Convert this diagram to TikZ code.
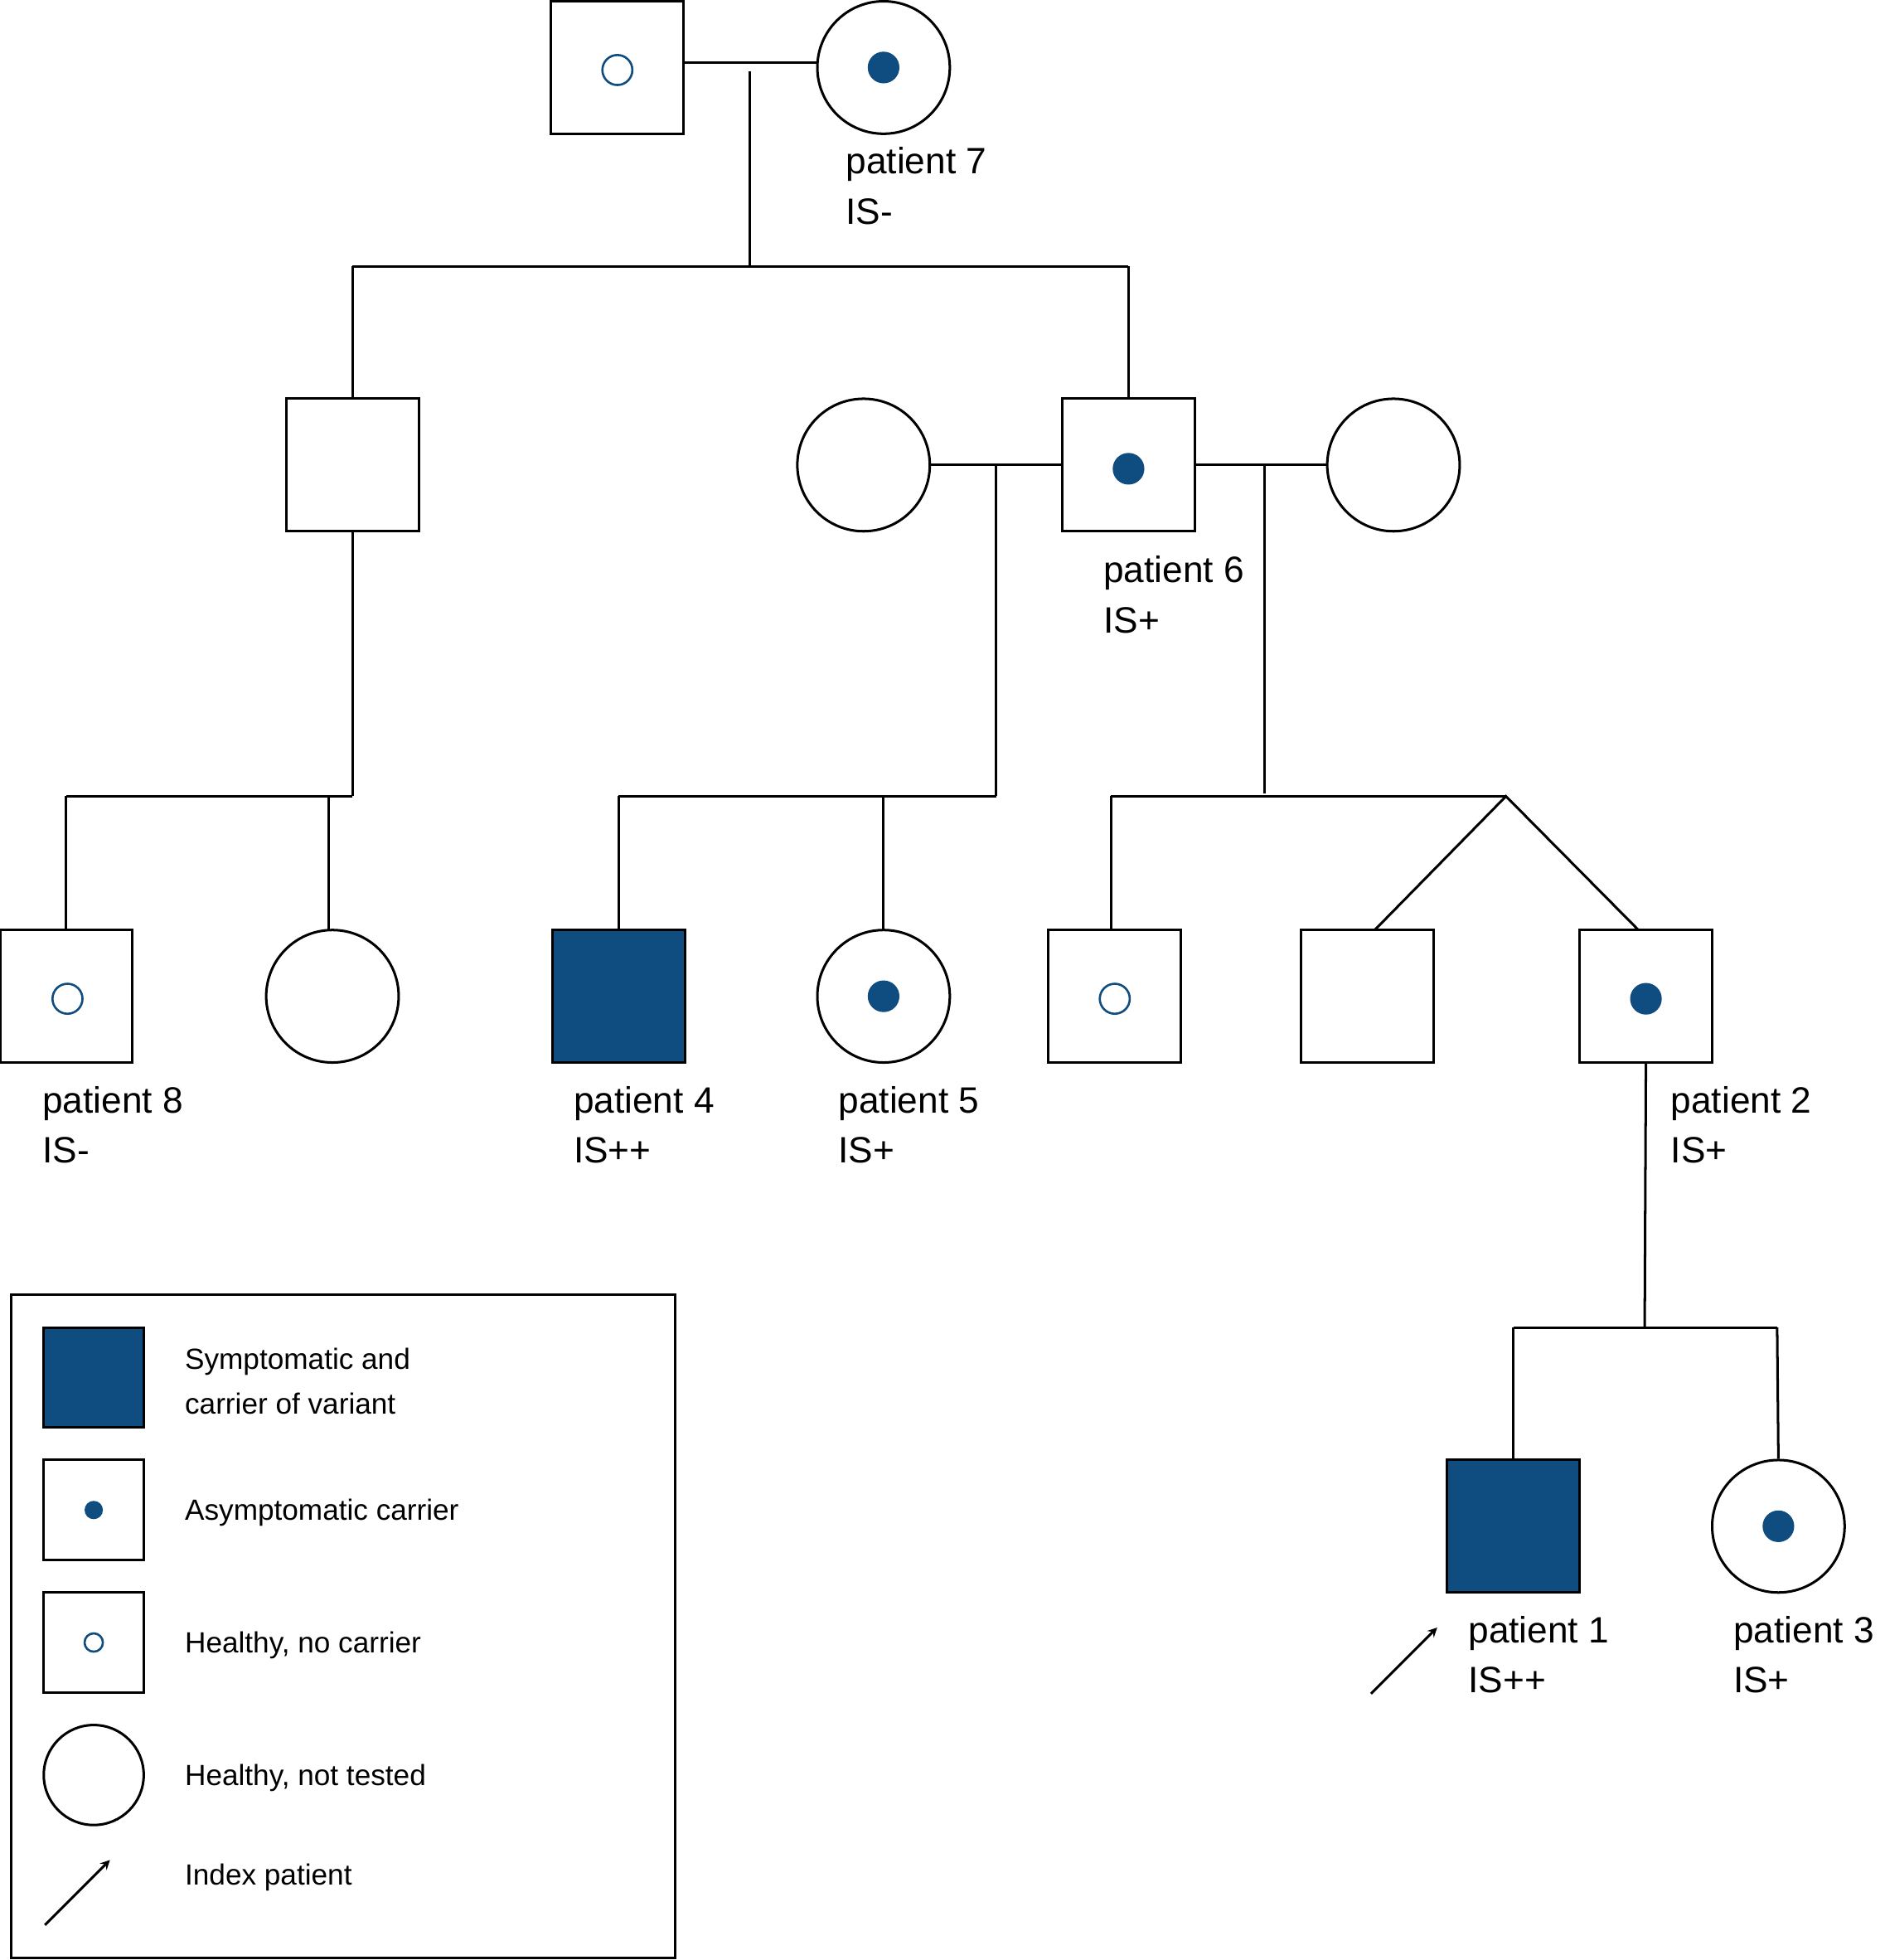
\documentclass[tikz,border=0pt]{standalone}
\usepackage{fontspec}
\setmainfont{Liberation Sans}
\definecolor{carrier}{RGB}{15,76,127}
\tikzset{every picture/.style={line width=1.5pt}}
\tikzset{
  male/.style={draw,rectangle,minimum size=79.5pt,inner sep=0pt},
  female/.style={draw,circle,minimum size=79.5pt,inner sep=0pt},
  lmale/.style={draw,rectangle,minimum size=60pt,inner sep=0pt},
  lfemale/.style={draw,circle,minimum size=60pt,inner sep=0pt},
  sick/.style={fill=carrier},
  dot/.style={circle,fill=carrier,minimum size=19pt,inner sep=0pt},
  odot/.style={circle,draw=carrier,minimum size=18pt,inner sep=0pt,line width=1.3pt},
  ldot/.style={circle,fill=carrier,minimum size=11pt,inner sep=0pt},
  lodot/.style={circle,draw=carrier,minimum size=11pt,inner sep=0pt,line width=1.3pt},
  lbl/.style={anchor=north west,inner sep=0pt,align=left,font=\fontsize{22}{30}\selectfont},
  ltxt/.style={anchor=west,inner sep=0pt,align=left,font=\fontsize{17.5}{27}\selectfont}
}
\begin{document}
\begin{tikzpicture}[x=0.75pt,y=0.75pt,yscale=-1,xscale=1]
	\useasboundingbox (0,0) rectangle (1508,1568);

	% generation I
	\node [male] (g1m) at (494,54) {};
	\node [odot] (g1md) at (494,56) {};
	\node [female] (p7) at (707,54) {};
	\node [dot] (p7d) at (707,54) {};
	\draw (547,50) -- (654,50);
	\draw (600,57) -- (600,213);
	\draw (282,213) -- (903,213);

	% generation II
	\node [male] (g2a) at (282,372) {};
	\node [female] (g2w1) at (691,372) {};
	\node [male] (p6) at (903,372) {};
	\node [dot] (p6d) at (903,375) {};
	\node [female] (g2w2) at (1115,372) {};
	\draw (282,213) -- (g2a.north);
	\draw (903,213) -- (p6.north);
	\draw (g2w1.east) -- (p6.west);
	\draw (p6.east) -- (g2w2.west);
	\draw (g2a.south) -- (282,637);
	\draw (797,372) -- (797,637);
	\draw (1012,372) -- (1012,635);

	% generation III
	\node [male] (p8) at (53,797) {};
	\node [odot] (p8d) at (54,799) {};
	\node [female] (g3b) at (266,797) {};
	\node [male,sick] (p4) at (495,797) {};
	\node [female] (p5) at (707,797) {};
	\node [dot] (p5d) at (707,797) {};
	\node [male] (g3e) at (892,797) {};
	\node [odot] (g3ed) at (892,799) {};
	\node [male] (g3f) at (1094,797) {};
	\node [male] (p2) at (1317,797) {};
	\node [dot] (p2d) at (1317,799) {};
	\draw (53,637) -- (282,637);
	\draw (495,637) -- (797,637);
	\draw (889,637) -- (1205,637);
	\draw (53,637) -- (p8.north);
	\draw (263,637) -- (263,744);
	\draw (495,637) -- (p4.north);
	\draw (707,637) -- (p5.north);
	\draw (889,637) -- (889,744);
	\coordinate (tw) at (1205,637);
	\draw (1100,744) -- (tw) -- (1311,744);

	% generation IV
	\node [male,sick] (p1) at (1211,1221) {};
	\node [female] (p3) at (1423,1221) {};
	\node [dot] (p3d) at (1423,1221) {};
	\draw (p2.south) -- (1316,1062);
	\draw (1211,1062) -- (1422,1062);
	\draw (1211,1062) -- (p1.north);
	\draw (1422,1062) -- (p3.north);
	\coordinate (ia) at (1097,1355);
	\coordinate (ib) at (1150,1302);
	\draw [-stealth] (ia) -- (ib);

	% labels
	\node [lbl] (l7) at (676,117) {patient 7\\IS-};
	\node [lbl] (l6) at (882,444) {patient 6\\IS+};
	\node [lbl] (l8) at (33,868) {patient 8\\IS-};
	\node [lbl] (l4) at (458,868) {patient 4\\IS++};
	\node [lbl] (l5) at (670,868) {patient 5\\IS+};
	\node [lbl] (l2) at (1336,868) {patient 2\\IS+};
	\node [lbl] (l1) at (1174,1292) {patient 1\\IS++};
	\node [lbl] (l3) at (1386,1292) {patient 3\\IS+};

	% legend
	\draw (9,1036) rectangle (540,1566);
	\node [lmale,sick] (k1) at (75,1102) {};
	\node [lmale] (k2) at (75,1208) {};
	\node [ldot] (k2d) at (75,1208) {};
	\node [lmale] (k3) at (75,1314) {};
	\node [lodot] (k3d) at (75,1314) {};
	\node [lfemale] (k4) at (75,1420) {};
	\coordinate (ka) at (36,1540);
	\coordinate (kb) at (88,1488);
	\draw [-stealth] (ka) -- (kb);
	\node [ltxt] (t1) at (147,1105) {Symptomatic and\\carrier of variant};
	\node [ltxt] (t2) at (147,1210) {Asymptomatic carrier};
	\node [ltxt] (t3) at (147,1316) {Healthy, no carrier};
	\node [ltxt] (t4) at (147,1422) {Healthy, not tested};
	\node [ltxt] (t5) at (147,1502) {Index patient};
\end{tikzpicture}
\end{document}
